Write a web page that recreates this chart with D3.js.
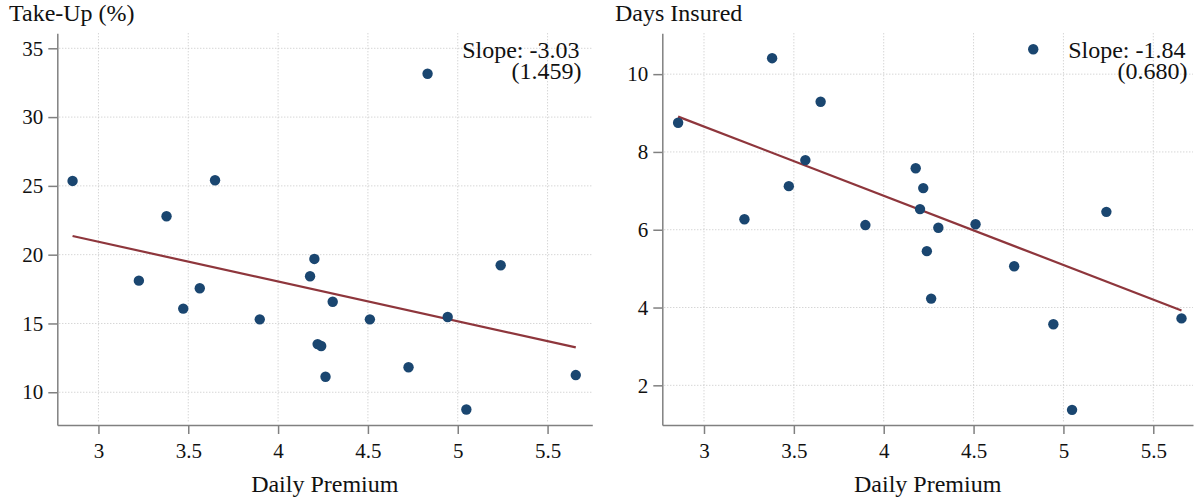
<!DOCTYPE html>
<html>
<head>
<meta charset="utf-8">
<script src="https://cdn.jsdelivr.net/npm/d3@7"></script>
<style>
  body { margin: 0; background: #fff; }
  .grid line { stroke: #c4c4c4; stroke-width: 1; stroke-dasharray: 1,2; }
  .axis path, .axis line { stroke: #808080; stroke-width: 1.5; }
</style>
</head>
<body>
<div id="chart"></div>
<script>
// Data (shared x: daily premium per village)
var dailyPremium = [2.856, 3.225, 3.379, 3.472, 3.564, 3.649, 3.898, 4.178, 4.202, 4.220,
                    4.240, 4.264, 4.304, 4.511, 4.726, 4.832, 4.944, 5.048, 5.239, 5.657];
var takeUp = [25.36, 18.11, 22.79, 16.08, 17.56, 25.41, 15.30, 18.43, 19.69, 13.50,
              13.36, 11.13, 16.58, 15.30, 11.82, 33.15, 15.47, 8.75, 19.23, 11.25];
var daysInsured = [8.75, 6.27, 10.41, 7.12, 7.79, 9.29, 6.12, 7.58, 6.53, 7.07,
                   5.45, 4.23, 6.05, 6.14, 5.06, 10.64, 3.57, 1.37, 6.46, 3.72];

var xTicks = [3, 3.5, 4, 4.5, 5, 5.5];
var takeUpTicks = [10, 15, 20, 25, 30, 35];
var daysTicks = [2, 4, 6, 8, 10];

var takeUpSlope = ["Slope: -3.03", "(1.459)"];
var daysSlope = ["Slope: -1.84", "(0.680)"];

var width = 1195;
var height = 501;
var serif = "'Liberation Serif'";

var svg = d3
  .select("#chart")
  .append("svg")
  .attr("width", width)
  .attr("height", height);

// least squares fit for the red line
function olsFit(xs, ys) {
  var mx = d3.mean(xs);
  var my = d3.mean(ys);
  var sxy = 0, sxx = 0;
  for (var i = 0; i < xs.length; i++) {
    sxy += (xs[i] - mx) * (ys[i] - my);
    sxx += (xs[i] - mx) * (xs[i] - mx);
  }
  var b = sxy / sxx;
  return { a: my - b * mx, b: b };
}

function drawPanel(p) {
  var x = d3.scaleLinear().domain(p.xDomain).range([p.left, p.right]);
  var y = d3.scaleLinear().domain(p.yDomain).range([p.bottom, p.top]);

  // Part 1: dotted grid
  var grid = svg.append("g").attr("class", "grid");
  grid.selectAll(".h")
    .data(p.yTicks)
    .enter()
    .append("line")
    .attr("x1", p.left + 2)
    .attr("x2", p.right)
    .attr("y1", function (d) { return y(d); })
    .attr("y2", function (d) { return y(d); });
  grid.selectAll(".v")
    .data(xTicks)
    .enter()
    .append("line")
    .attr("y1", p.top)
    .attr("y2", p.bottom - 2)
    .attr("x1", function (d) { return x(d); })
    .attr("x2", function (d) { return x(d); });

  // Part 2: axes
  var xg = svg.append("g")
    .attr("class", "axis")
    .attr("transform", "translate(0," + p.bottom + ")")
    .call(d3.axisBottom(x).tickValues(xTicks).tickSize(9).tickSizeOuter(0).tickPadding(9)
      .tickFormat(d3.format("")));
  var yg = svg.append("g")
    .attr("class", "axis")
    .attr("transform", "translate(" + p.left + ",0)")
    .call(d3.axisLeft(y).tickValues(p.yTicks).tickSize(9).tickSizeOuter(0).tickPadding(5)
      .tickFormat(d3.format("")));
  [xg, yg].forEach(function (g) {
    g.attr("font-family", null).attr("font-size", null);
    g.selectAll("text")
      .style("font-family", serif)
      .style("font-size", "21px")
      .attr("fill", "#111");
  });

  // Part 3: fitted line over the range of the data
  var fit = olsFit(dailyPremium, p.values);
  var xr = d3.extent(dailyPremium);
  svg.append("line")
    .attr("x1", x(xr[0]))
    .attr("y1", y(fit.a + fit.b * xr[0]))
    .attr("x2", x(xr[1]))
    .attr("y2", y(fit.a + fit.b * xr[1]))
    .attr("stroke", "#8e363c")
    .attr("stroke-width", 2.2);

  // Part 4: points
  svg.append("g")
    .selectAll("circle")
    .data(dailyPremium)
    .enter()
    .append("circle")
    .attr("cx", function (d) { return x(d); })
    .attr("cy", function (d, i) { return y(p.values[i]); })
    .attr("r", 5.2)
    .attr("fill", "#1a4670");

  // Part 5: titles and slope note
  svg.append("text")
    .attr("x", p.titleX)
    .attr("y", 21)
    .style("font-family", serif)
    .style("font-size", "24px")
    .attr("fill", "#111")
    .text(p.title);
  svg.append("text")
    .attr("x", (p.left + p.right) / 2)
    .attr("y", 492)
    .attr("text-anchor", "middle")
    .style("font-family", serif)
    .style("font-size", "24px")
    .attr("fill", "#111")
    .text("Daily Premium");
  p.note.forEach(function (line, i) {
    svg.append("text")
      .attr("x", p.noteX + i * 2)
      .attr("y", 58 + i * 21)
      .attr("text-anchor", "end")
      .style("font-family", serif)
      .style("font-size", "24px")
      .attr("fill", "#111")
      .text(line);
  });
}

drawPanel({
  title: "Take-Up (%)", titleX: 9,
  values: takeUp, yTicks: takeUpTicks, note: takeUpSlope,
  left: 57.3, right: 592.3, top: 33.3, bottom: 425,
  xDomain: [2.771, 5.749], yDomain: [7.62, 36.09],
  noteX: 579.5
});

drawPanel({
  title: "Days Insured", titleX: 615,
  values: daysInsured, yTicks: daysTicks, note: daysSlope,
  left: 662.3, right: 1193, top: 33.3, bottom: 425,
  xDomain: [2.768, 5.721], yDomain: [0.98, 11.05],
  noteX: 1185.5
});
</script>
</body>
</html>
